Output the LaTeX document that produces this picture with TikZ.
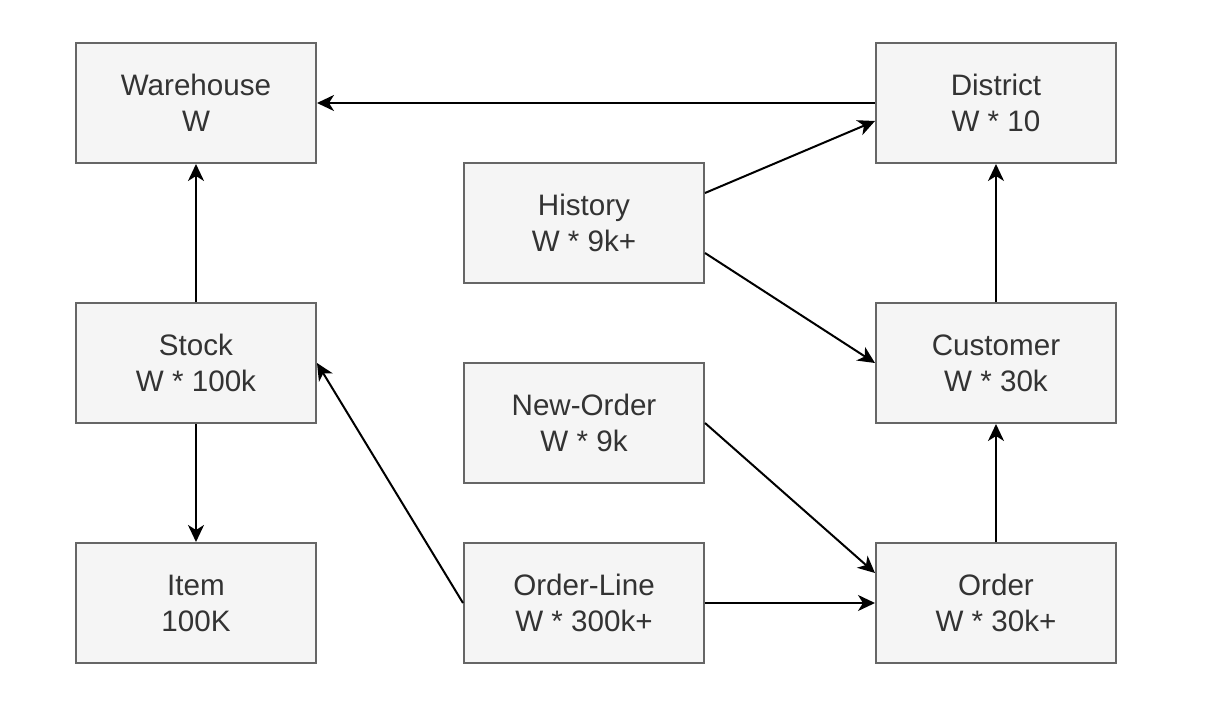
\documentclass[tikz,border=0pt]{standalone}
\usepackage{fontspec}
\setmainfont{Liberation Sans}
\usetikzlibrary{arrows.meta}
\definecolor{boxfill}{HTML}{F5F5F5}
\definecolor{boxline}{HTML}{666666}
\definecolor{boxtext}{HTML}{333333}
\begin{document}
\begin{tikzpicture}[x=0.5pt,y=-0.5pt,
  entity/.style={draw=boxline,fill=boxfill,line width=1pt,minimum width=120pt,minimum height=60pt,
    inner sep=0pt,align=center,text=boxtext,font=\fontsize{14.8pt}{18pt}\selectfont},
  conn/.style={line width=1pt,-{Stealth[length=8.5pt,width=8pt,inset=2.5pt]}}]
\useasboundingbox (0,0) rectangle (1211,701);
\node[entity] (Warehouse) at (196,103) {Warehouse\\W};
\node[entity] (District) at (996,103) {District\\W * 10};
\node[entity] (History) at (584,223) {History\\W * 9k+};
\node[entity] (Stock) at (196,363) {Stock\\W * 100k};
\node[entity] (Customer) at (996,363) {Customer\\W * 30k};
\node[entity] (NewOrder) at (584,423) {New-Order\\W * 9k};
\node[entity] (Item) at (196,603) {Item\\100K};
\node[entity] (OrderLine) at (584,603) {Order-Line\\W * 300k+};
\node[entity] (Order) at (996,603) {Order\\W * 30k+};
\draw[conn] (District.west) -- (Warehouse.east);
\draw[conn] ([yshift=15pt]History.east) -- ([yshift=-9pt]District.west);
\draw[conn] ([yshift=-15pt]History.east) -- (Customer.west);
\draw[conn] (Stock.north) -- (Warehouse.south);
\draw[conn] (Stock.south) -- (Item.north);
\draw[conn] (Customer.north) -- (District.south);
\draw[conn] (Order.north) -- (Customer.south);
\draw[conn] (NewOrder.east) -- ([yshift=15pt]Order.west);
\draw[conn] (OrderLine.east) -- (Order.west);
\draw[conn] (OrderLine.west) -- (Stock.east);
\end{tikzpicture}
\end{document}
